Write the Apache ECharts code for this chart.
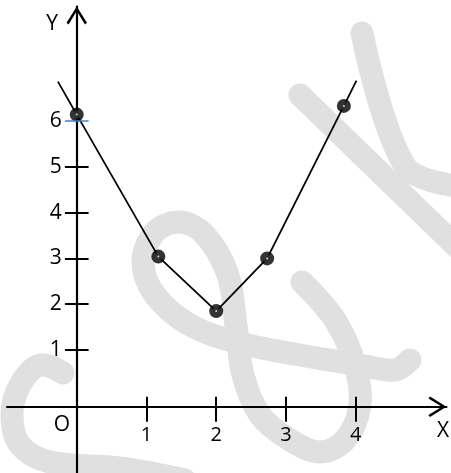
<!DOCTYPE html>
<html>
<head>
<meta charset="utf-8">
<script src="https://cdn.jsdelivr.net/npm/echarts@6/dist/echarts.min.js"></script>
<style>
 html, body { margin: 0; padding: 0; background: #fff; }
 #chart { width: 451px; height: 473px; }
</style>
</head>
<body>
<div id="chart"></div>
<script>
// points
const pointX = [0, 1.17, 2, 2.73, 3.83]
const pointY = [6.14, 3.04, 1.85, 3.0, 6.33]
// the line runs a little past the first and last point
const lineStart = [-0.27, 6.86]
const lineEnd = [4.01, 6.88]

const xTicks = [1, 2, 3, 4]
const yTicks = [1, 2, 3, 4, 5]
const yLabels = [1, 2, 3, 4, 5, 6]
const blueTick = 6

const font = '"Open Sans", "Noto Sans", sans-serif'
const arrow = 'path://M50,0 L100,80 L90,88 L50,22 L10,88 L0,80 Z'
// axes are pulled in from the grid edges to cross at the origin
const gridLeft = 7
const gridW = 439.4
const originX = 76.75
const xAxisOffset = -67
const tickHalf = 0.17 // half a y tick, in x units

const points = pointX.map((x, i) => [x, pointY[i]])
const lineData = [lineStart, ...points, lineEnd]
const tickSeg = (v) => [{ coord: [-tickHalf, v] }, { coord: [tickHalf, v] }]

const chart = echarts.init(document.getElementById('chart'))

// faint "S&K" watermark strokes behind the plot
const mark = (pts) => ({
 type: 'polyline',
 z: -10,
 silent: true,
 shape: { points: pts, smooth: 0.35 },
 style: { stroke: '#e0e0e0', lineWidth: 23, fill: null, lineCap: 'round', lineJoin: 'round' },
})

const xBase = {
 type: 'value', min: -1, max: 5.3, position: 'bottom', offset: xAxisOffset,
 splitLine: { show: false },
}
const axisArrow = {
 onZero: false,
 lineStyle: { color: '#000', width: 2.2 },
 symbol: ['none', arrow], symbolSize: [22, 18], symbolOffset: [0, -9],
}
const tickStyle = { color: '#000', width: 2 }
const textStyle = { font: '21px ' + font, fill: '#000', align: 'center', verticalAlign: 'middle' }

chart.setOption({
 animation: false,
 backgroundColor: '#fff',
 grid: { left: gridLeft, top: 6.5, width: gridW, height: 467.2, outerBoundsMode: 'none' },
 xAxis: [
 {
 ...xBase,
 axisLine: axisArrow,
 axisTick: { customValues: xTicks, length: 15, lineStyle: tickStyle },
 axisLabel: { customValues: xTicks, margin: 19, color: '#000', fontSize: 20, fontFamily: font },
 },
 {
 ...xBase,
 axisLine: { show: false, onZero: false },
 axisTick: { customValues: xTicks, inside: true, length: 10, lineStyle: tickStyle },
 axisLabel: { show: false },
 },
 ],
 yAxis: {
 type: 'value', min: -1.7, max: 8.5,
 position: 'left', offset: gridLeft - originX,
 splitLine: { show: false },
 axisLine: axisArrow,
 axisTick: { show: false },
 axisLabel: { customValues: yLabels, margin: 15, color: '#000', fontSize: 21, fontFamily: font },
 },
 graphic: [
 mark([[362, 33], [405, 166], [458, 186]]),
 mark([[300, 95], [460, 250]]),
 mark([[302, 282], [335, 320], [355, 365], [360, 405], [345, 440], [320, 452], [290, 440], [260, 415],
 [243, 375], [236, 325], [228, 275], [205, 235], [180, 222], [155, 232], [143, 262], [155, 295],
 [190, 325], [240, 343], [300, 355], [360, 365], [395, 370], [410, 360]]),
 mark([[63, 373], [40, 365], [20, 385], [12, 415], [20, 445], [50, 462], [120, 468], [185, 480]]),
 { type: 'text', x: 52, y: 24, style: { ...textStyle, text: 'Y' } },
 { type: 'text', x: 443, y: 431, style: { ...textStyle, text: 'X' } },
 { type: 'text', x: 62, y: 425, style: { ...textStyle, text: 'O' } },
 ],
 series: [
 {
 type: 'line',
 data: lineData,
 showSymbol: false,
 lineStyle: { color: '#000', width: 1.8 },
 z: 3,
 // y ticks crossing the axis line
 markLine: {
 silent: true,
 symbol: 'none',
 label: { show: false },
 lineStyle: { color: '#000', width: 2, type: 'solid' },
 data: yTicks.map(tickSeg),
 },
 },
 {
 type: 'scatter',
 data: points,
 symbol: 'circle',
 symbolSize: 8,
 itemStyle: { color: '#fff', borderColor: '#000', borderWidth: 6 },
 z: 4,
 markLine: {
 silent: true,
 symbol: 'none',
 label: { show: false },
 lineStyle: { color: '#4a7ebb', width: 1.5, type: 'solid' },
 data: [tickSeg(blueTick)],
 },
 },
 ],
})
</script>
</body>
</html>
